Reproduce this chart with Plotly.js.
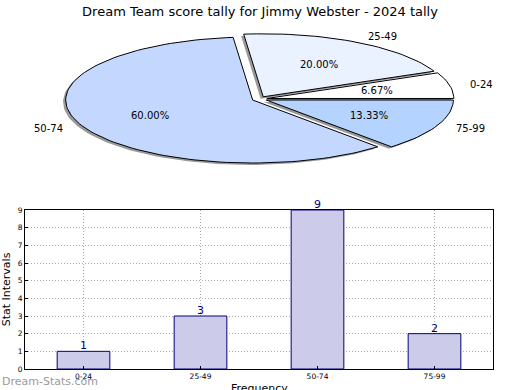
<!DOCTYPE html>
<html><head><meta charset="utf-8">
<script src="https://cdn.plot.ly/plotly-3.0.1.min.js"></script>
<style>body{margin:0;padding:0;background:#fff}#chart{width:520px;height:390px}</style>
</head><body><div id="chart"></div>
<script>
// ---- data ----
const categories = ["0-24", "25-49", "50-74", "75-99"];
const counts = [1, 3, 9, 2];
const pieColors = ["#ffffff", "#eaf1ff", "#c4d8ff", "#b4d4ff"];
const yTicks = [0,1,2,3,4,5,6,7,8,9];
const titleText = "Dream Team score tally for Jimmy Webster - 2024 tally";

// ---- pie geometry (unit ellipse; axes stretch it) ----
const explode = 0.04;
const total = counts.reduce((a,b)=>a+b,0);
const traces = [];
const annotations = [];
let start = 0;
const slices = counts.map((c,i)=>{
  const span = c/total*360;
  const s = {i, t1:start, t2:start+span, mid:start+span/2, pct:c/total*100};
  start += span;
  return s;
});
function slicePoly(s, dx, dy){
  const m = s.mid*Math.PI/180;
  const cx = explode*Math.cos(m)+dx, cy = explode*Math.sin(m)+dy;
  const xs=[cx], ys=[cy];
  const n = Math.max(8, Math.ceil((s.t2-s.t1)/2));
  for(let k=0;k<=n;k++){
    const a=(s.t1+(s.t2-s.t1)*k/n)*Math.PI/180;
    xs.push(cx+Math.cos(a)); ys.push(cy+Math.sin(a));
  }
  xs.push(cx); ys.push(cy);
  return {xs, ys, cx, cy};
}
// shadows
slices.forEach(s=>{
  const p = slicePoly(s, -0.014, -0.03);
  traces.push({type:'scatter', mode:'lines', x:p.xs, y:p.ys, xaxis:'x2', yaxis:'y2',
    fill:'toself', fillcolor:'rgba(0,0,0,0.4)', line:{width:0, color:'rgba(0,0,0,0)'},
    hoverinfo:'skip', showlegend:false});
});
slices.forEach(s=>{
  const p = slicePoly(s, 0, 0);
  traces.push({type:'scatter', mode:'lines', x:p.xs, y:p.ys, xaxis:'x2', yaxis:'y2',
    fill:'toself', fillcolor:pieColors[s.i], line:{width:1, color:'#000'},
    name:categories[s.i], hoverinfo:'name', showlegend:false});
  const m = s.mid*Math.PI/180;
  const lx = p.cx + 1.1*Math.cos(m), ly = p.cy + 1.1*Math.sin(m);
  annotations.push({xref:'x2', yref:'y2', x:lx, y:ly, text:categories[s.i], showarrow:false,
    xanchor: Math.cos(m)>0?'left':'right', yanchor:'middle',
    font:{family:'DejaVu Sans', size:10, color:'#000'}});
  annotations.push({xref:'x2', yref:'y2', x:p.cx+0.6*Math.cos(m), y:p.cy+0.6*Math.sin(m),
    text:s.pct.toFixed(2)+'%', showarrow:false, xanchor:'center', yanchor:'middle',
    font:{family:'DejaVu Sans', size:10, color:'#000'}});
});

// ---- bar chart ----
traces.push({type:'bar', x:categories, y:counts, xaxis:'x', yaxis:'y', width:0.45,
  marker:{color:'#ccccea', line:{color:'#000080', width:1}}, showlegend:false});
categories.forEach((c,i)=>{
  annotations.push({xref:'x', yref:'y', x:c, y:counts[i], text:String(counts[i]), showarrow:false,
    xanchor:'center', yanchor:'bottom', yshift:-3,
    font:{family:'DejaVu Sans', size:11, color:'#000080'}});
});

annotations.push({xref:'paper', yref:'paper', x:0, y:0.023, xanchor:'left', yanchor:'middle',
  text:'Dream-Stats.com', showarrow:false, font:{family:'DejaVu Sans', size:11, color:'#9a9a9a'}});
annotations.push({xref:'paper', yref:'paper', x:(25+468/2)/520, y:0.004, xanchor:'center', yanchor:'middle',
  text:'Frequency', showarrow:false, font:{family:'DejaVu Sans', size:11, color:'#000'}});

const W=520,H=390, cxp=259.5, cyp=99, rx=187, ry=63;
const gridDash = '1px,2px';
const layout = {
  width:W, height:H, margin:{l:0,r:0,t:0,b:0}, paper_bgcolor:'#fff', plot_bgcolor:'#fff',
  title:{text:titleText, x:0.5, xanchor:'center', y:1-11/H, yanchor:'middle',
    font:{family:'DejaVu Sans', size:13, color:'#000', weight:'normal'}},
  showlegend:false,
  xaxis2:{domain:[0,1], range:[-cxp/rx, (W-cxp)/rx], anchor:'y2', visible:false, fixedrange:true},
  yaxis2:{domain:[1-200/H,1], range:[(cyp-200)/ry, cyp/ry], anchor:'x2', visible:false, fixedrange:true},
  xaxis:{domain:[25/W, 493/W], anchor:'y', range:[-0.5,3.5], type:'category',
    showline:true, linecolor:'#000', linewidth:1, mirror:true,
    showgrid:true, gridcolor:'#a8a8a8', griddash:gridDash, gridwidth:1,
    ticks:'inside', ticklen:3, tickcolor:'#000',
    tickfont:{family:'DejaVu Sans', size:7.5, color:'#000'}, zeroline:false},
  yaxis:{domain:[1-369/H, 1-210/H], anchor:'x', range:[0,9], tickvals:yTicks,
    showline:true, linecolor:'#000', linewidth:1, mirror:true,
    showgrid:true, gridcolor:'#a8a8a8', griddash:gridDash, gridwidth:1,
    ticks:'inside', ticklen:3, tickcolor:'#000',
    tickfont:{family:'DejaVu Sans', size:7.5, color:'#000'},
    title:{text:'Stat Intervals', font:{family:'DejaVu Sans', size:11, color:'#000'}, standoff:4}, zeroline:false},
  annotations
};
Plotly.newPlot('chart', traces, layout, {displayModeBar:false, staticPlot:true});
</script></body></html>
